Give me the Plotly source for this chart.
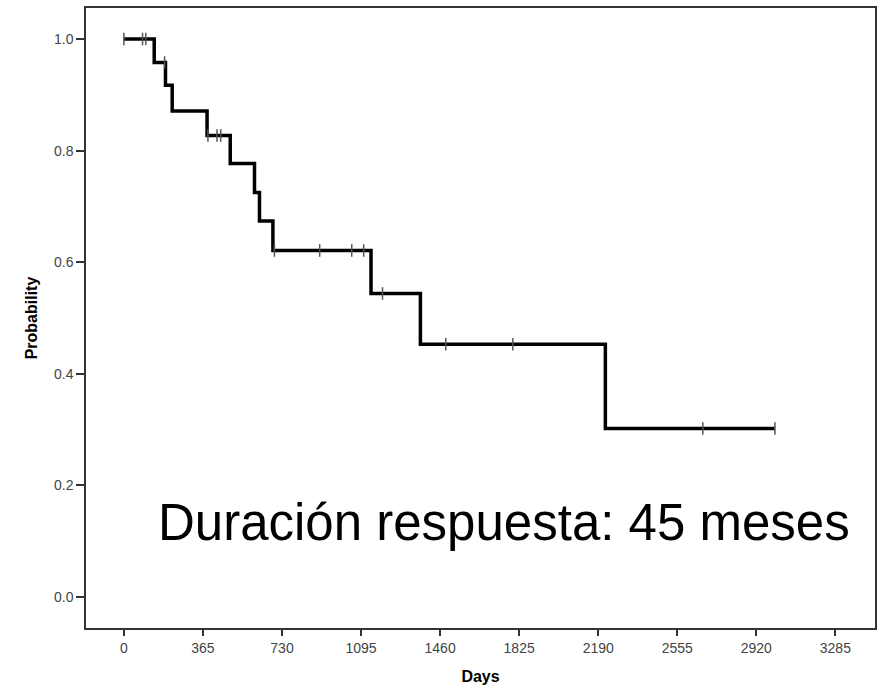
import plotly.graph_objects as go
import bisect

# Kaplan-Meier step data
event_days = [140, 192, 223, 384, 491, 603, 626, 688, 1141, 1369, 2223]
survival = [1.0, 0.958, 0.917, 0.871, 0.827, 0.777, 0.725, 0.674, 0.621, 0.544, 0.453, 0.302]
last_day = 3006
censor_days = [0, 86, 101, 188, 388, 430, 447, 695, 904, 1052, 1107, 1194, 1486, 1796, 2673, 3006]

x_ticks = [0, 365, 730, 1095, 1460, 1825, 2190, 2555, 2920, 3285]
y_ticks = [0.0, 0.2, 0.4, 0.6, 0.8, 1.0]

note_text = "Duración respuesta: 45 meses"

step_x = [0] + event_days + [last_day]
step_y = survival + [survival[-1]]

censor_y = [survival[bisect.bisect_right(event_days, d)] for d in censor_days]

fig = go.Figure()
fig.add_trace(go.Scatter(
    x=step_x, y=step_y, mode="lines", line_shape="hv",
    line=dict(color="black", width=3.5), showlegend=False, hoverinfo="skip"))
fig.add_trace(go.Scatter(
    x=censor_days, y=censor_y, mode="markers",
    marker=dict(symbol="line-ns", size=9, line=dict(color="#555555", width=1.5)),
    showlegend=False, hoverinfo="skip"))

fig.add_annotation(
    x=150, y=0.133, xref="x", yref="y", text=note_text, showarrow=False,
    xanchor="left", yanchor="middle",
    font=dict(family="Liberation Sans, Arial, sans-serif", size=51, color="black"))

tick_font = dict(family="Liberation Sans Narrow, Arial Narrow, Liberation Sans, Arial", size=14, color="#444444")
title_font = dict(family="Liberation Sans, Arial, sans-serif", size=16, color="black")

fig.update_xaxes(
    range=[-175, 3468], tickvals=x_ticks, ticktext=[str(v) for v in x_ticks],
    ticks="outside", ticklen=6, tickwidth=1.5, tickcolor="#333333",
    showline=True, linecolor="#333333", linewidth=1.5, mirror=True,
    showgrid=False, zeroline=False, tickfont=tick_font,
    title=dict(text="<b>Days</b>", font=title_font, standoff=16))
fig.update_yaxes(
    range=[-0.0556, 1.0556], tickvals=y_ticks, ticktext=[f"{v:.1f}" for v in y_ticks],
    ticks="outside", ticklen=8, tickwidth=1.5, tickcolor="#333333",
    showline=True, linecolor="#333333", linewidth=1.5, mirror=True,
    showgrid=False, zeroline=False, tickfont=tick_font,
    title=dict(text="<b>Probability</b>", font=title_font, standoff=12))

fig.update_layout(
    width=881, height=692,
    margin=dict(l=86, r=4, t=8, b=64),
    plot_bgcolor="white", paper_bgcolor="white")

fig.write_html("out.html")
